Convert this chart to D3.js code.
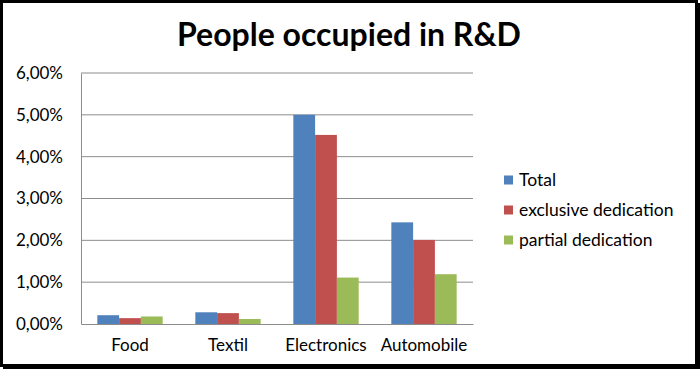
<!DOCTYPE html>
<html>
<head>
<meta charset="utf-8">
<script src="https://cdn.jsdelivr.net/npm/d3@7"></script>
<style>
    body { margin: 0; background: #fff; }
    text { font-family: Lato, "Open Sans", sans-serif; }
</style>
</head>
<body>
<div id="chart"></div>
<script>
// chart values
const categories = ['Food', 'Textil', 'Electronics', 'Automobile'];
const seriesNames = ['Total', 'exclusive dedication', 'partial dedication'];
const total = [0.0021, 0.0028, 0.0500, 0.0243];
const exclusive = [0.0014, 0.0026, 0.0452, 0.0201];
const partial = [0.0018, 0.0012, 0.0111, 0.0119];
const yTicks = [0, 0.01, 0.02, 0.03, 0.04, 0.05, 0.06];
const colors = ['#4f81bd', '#c0504d', '#9bbb59'];

const W = 700, H = 369;
const margin = {top: 73, right: 227, bottom: 45, left: 81};
const width = W - margin.left - margin.right;
const height = H - margin.top - margin.bottom;

const svg = d3.select('#chart').append('svg')
    .attr('width', W).attr('height', H);

// frame
svg.append('rect').attr('x', 1.5).attr('y', 1.5).attr('width', W - 5).attr('height', H - 5)
    .attr('fill', '#fff').attr('stroke', '#000').attr('stroke-width', 3);
svg.append('line').attr('x1', W - 2).attr('x2', W - 2).attr('y1', 3).attr('y2', H)
    .attr('stroke', '#000').attr('stroke-width', 4);
svg.append('line').attr('x1', 3).attr('x2', W).attr('y1', H - 2).attr('y2', H - 2)
    .attr('stroke', '#000').attr('stroke-width', 4);

svg.append('text').text('People occupied in R&D')
    .attr('x', 349).attr('y', 46)
    .attr('text-anchor', 'middle')
    .style('font-size', '32px').style('font-weight', 'bold');

const g = svg.append('g').attr('transform', 'translate(' + margin.left + ',' + margin.top + ')');

// gap width 150%: 3 bars + 1.5 bar widths of gap per category
const x0 = d3.scaleBand().domain(categories).range([0, width]).padding(0);
const x1 = d3.scaleBand().domain(seriesNames).range([0, x0.bandwidth()]).paddingOuter(0.75).paddingInner(0);
const y = d3.scaleLinear().domain([0, 0.06]).range([height, 0]);

// gridlines
g.append('g').selectAll('line').data(yTicks.filter(d => d > 0)).enter().append('line')
    .attr('x1', 0).attr('x2', width)
    .attr('y1', d => y(d)).attr('y2', d => y(d))
    .attr('stroke', '#8c8c8c').attr('stroke-width', 1);

const yAxis = g.append('g')
    .call(d3.axisLeft(y).tickValues(yTicks).tickSize(0).tickPadding(18)
        .tickFormat(d => d3.format('.2f')(d * 100).replace('.', ',') + '%'));
yAxis.select('.domain').attr('stroke', '#8c8c8c');
yAxis.selectAll('text').style('font-size', '17px').style('font-family', 'Lato, sans-serif').attr('fill', '#000');

const rows = categories.map((c, i) => ({cat: c, vals: [total[i], exclusive[i], partial[i]]}));

const grp = g.selectAll('.grp').data(rows).enter().append('g')
    .attr('transform', d => 'translate(' + x0(d.cat) + ',0)');
grp.selectAll('rect').data(d => d.vals.map((v, k) => ({name: seriesNames[k], v: v, k: k}))).enter().append('rect')
    .attr('x', d => x1(d.name))
    .attr('width', x1.bandwidth())
    .attr('y', d => y(d.v))
    .attr('height', d => height - y(d.v))
    .attr('fill', d => colors[d.k]);

const xAxis = g.append('g').attr('transform', 'translate(0,' + height + ')')
    .call(d3.axisBottom(x0).tickSize(0).tickPadding(15));
xAxis.select('.domain').attr('stroke', '#8c8c8c');
xAxis.selectAll('text').style('font-size', '17px').style('font-family', 'Lato, sans-serif').attr('fill', '#000');

// legend
const legend = svg.append('g').attr('transform', 'translate(504,180)');
const item = legend.selectAll('g').data(seriesNames).enter().append('g')
    .attr('transform', (d, i) => 'translate(0,' + i * 30 + ')');
item.append('rect').attr('x', 0).attr('y', -4.5).attr('width', 9).attr('height', 9)
    .attr('fill', (d, i) => colors[i]);
item.append('text').text(d => d).attr('x', 15).attr('dy', '0.35em')
    .style('font-size', '17.5px');
</script>
</body>
</html>
